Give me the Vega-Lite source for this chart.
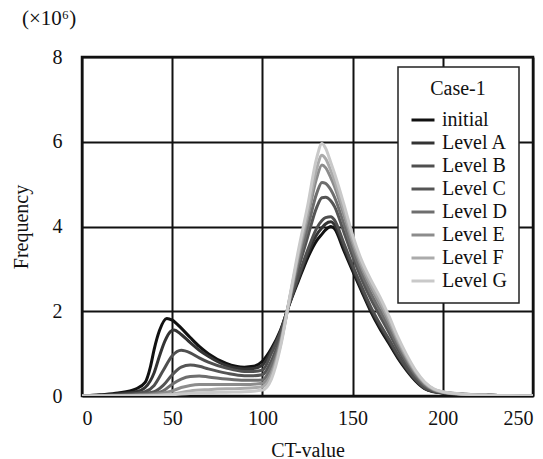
{
  "$schema": "https://vega.github.io/schema/vega-lite/v6.json",
  "width": 451,
  "height": 339,
  "autosize": {"type": "none"},
  "padding": {"left": 82, "top": 57, "right": 10, "bottom": 63},
  "background": "white",
  "title": {"text": "(×10⁶)", "anchor": "start", "frame": "group", "dx": -60, "offset": 18, "fontSize": 21, "fontWeight": "normal", "font": "Liberation Serif", "color": "#111"},
  "data": {"values": [
    {"s":"initial","x":0,"y":0},{"s":"initial","x":10,"y":0.03},{"s":"initial","x":20,"y":0.07},{"s":"initial","x":30,"y":0.17},{"s":"initial","x":35,"y":0.32},{"s":"initial","x":38,"y":0.7},{"s":"initial","x":40,"y":1.1},{"s":"initial","x":43,"y":1.55},{"s":"initial","x":47,"y":1.83},{"s":"initial","x":50,"y":1.79},{"s":"initial","x":55,"y":1.6},{"s":"initial","x":60,"y":1.38},{"s":"initial","x":65,"y":1.17},{"s":"initial","x":70,"y":1.0},{"s":"initial","x":80,"y":0.77},{"s":"initial","x":90,"y":0.68},{"s":"initial","x":95,"y":0.7},{"s":"initial","x":100,"y":0.82},{"s":"initial","x":105,"y":1.12},{"s":"initial","x":110,"y":1.55},{"s":"initial","x":115,"y":2.17},{"s":"initial","x":120,"y":2.72},{"s":"initial","x":125,"y":3.25},{"s":"initial","x":130,"y":3.66},{"s":"initial","x":133,"y":3.82},{"s":"initial","x":135,"y":3.92},{"s":"initial","x":138,"y":4.0},{"s":"initial","x":140,"y":3.95},{"s":"initial","x":145,"y":3.45},{"s":"initial","x":150,"y":2.95},{"s":"initial","x":155,"y":2.47},{"s":"initial","x":160,"y":2.0},{"s":"initial","x":165,"y":1.6},{"s":"initial","x":170,"y":1.25},{"s":"initial","x":175,"y":0.9},{"s":"initial","x":180,"y":0.6},{"s":"initial","x":185,"y":0.35},{"s":"initial","x":190,"y":0.17},{"s":"initial","x":195,"y":0.1},{"s":"initial","x":200,"y":0.07},{"s":"initial","x":210,"y":0.04},{"s":"initial","x":225,"y":0.02},{"s":"initial","x":250,"y":0.005},

    {"s":"Level A","x":0,"y":0},{"s":"Level A","x":10,"y":0.02},{"s":"Level A","x":20,"y":0.05},{"s":"Level A","x":30,"y":0.1},{"s":"Level A","x":35,"y":0.2},{"s":"Level A","x":40,"y":0.55},{"s":"Level A","x":43,"y":0.95},{"s":"Level A","x":46,"y":1.3},{"s":"Level A","x":49,"y":1.52},{"s":"Level A","x":51,"y":1.56},{"s":"Level A","x":55,"y":1.45},{"s":"Level A","x":60,"y":1.26},{"s":"Level A","x":65,"y":1.08},{"s":"Level A","x":70,"y":0.94},{"s":"Level A","x":80,"y":0.72},{"s":"Level A","x":90,"y":0.64},{"s":"Level A","x":95,"y":0.65},{"s":"Level A","x":100,"y":0.73},{"s":"Level A","x":105,"y":1.07},{"s":"Level A","x":110,"y":1.52},{"s":"Level A","x":115,"y":2.18},{"s":"Level A","x":120,"y":2.77},{"s":"Level A","x":125,"y":3.34},{"s":"Level A","x":130,"y":3.8},{"s":"Level A","x":133,"y":3.97},{"s":"Level A","x":135,"y":4.06},{"s":"Level A","x":138,"y":4.11},{"s":"Level A","x":140,"y":4.04},{"s":"Level A","x":145,"y":3.53},{"s":"Level A","x":150,"y":3.01},{"s":"Level A","x":155,"y":2.52},{"s":"Level A","x":160,"y":2.05},{"s":"Level A","x":165,"y":1.65},{"s":"Level A","x":170,"y":1.3},{"s":"Level A","x":175,"y":0.94},{"s":"Level A","x":180,"y":0.63},{"s":"Level A","x":185,"y":0.37},{"s":"Level A","x":190,"y":0.18},{"s":"Level A","x":195,"y":0.105},{"s":"Level A","x":200,"y":0.072},{"s":"Level A","x":210,"y":0.04},{"s":"Level A","x":225,"y":0.02},{"s":"Level A","x":250,"y":0.005},

    {"s":"Level B","x":0,"y":0},{"s":"Level B","x":10,"y":0.01},{"s":"Level B","x":20,"y":0.03},{"s":"Level B","x":30,"y":0.06},{"s":"Level B","x":35,"y":0.1},{"s":"Level B","x":40,"y":0.25},{"s":"Level B","x":45,"y":0.6},{"s":"Level B","x":50,"y":0.95},{"s":"Level B","x":55,"y":1.08},{"s":"Level B","x":60,"y":1.02},{"s":"Level B","x":65,"y":0.9},{"s":"Level B","x":70,"y":0.8},{"s":"Level B","x":80,"y":0.66},{"s":"Level B","x":90,"y":0.58},{"s":"Level B","x":95,"y":0.58},{"s":"Level B","x":100,"y":0.61},{"s":"Level B","x":105,"y":1.01},{"s":"Level B","x":110,"y":1.49},{"s":"Level B","x":115,"y":2.19},{"s":"Level B","x":120,"y":2.83},{"s":"Level B","x":125,"y":3.43},{"s":"Level B","x":130,"y":3.95},{"s":"Level B","x":133,"y":4.14},{"s":"Level B","x":135,"y":4.21},{"s":"Level B","x":138,"y":4.23},{"s":"Level B","x":140,"y":4.15},{"s":"Level B","x":145,"y":3.62},{"s":"Level B","x":150,"y":3.08},{"s":"Level B","x":155,"y":2.58},{"s":"Level B","x":160,"y":2.11},{"s":"Level B","x":165,"y":1.71},{"s":"Level B","x":170,"y":1.35},{"s":"Level B","x":175,"y":0.98},{"s":"Level B","x":180,"y":0.66},{"s":"Level B","x":185,"y":0.39},{"s":"Level B","x":190,"y":0.19},{"s":"Level B","x":195,"y":0.11},{"s":"Level B","x":200,"y":0.075},{"s":"Level B","x":210,"y":0.04},{"s":"Level B","x":225,"y":0.02},{"s":"Level B","x":250,"y":0.005},

    {"s":"Level C","x":0,"y":0},{"s":"Level C","x":20,"y":0.02},{"s":"Level C","x":30,"y":0.04},{"s":"Level C","x":40,"y":0.1},{"s":"Level C","x":45,"y":0.25},{"s":"Level C","x":50,"y":0.5},{"s":"Level C","x":55,"y":0.68},{"s":"Level C","x":60,"y":0.73},{"s":"Level C","x":65,"y":0.7},{"s":"Level C","x":70,"y":0.64},{"s":"Level C","x":80,"y":0.54},{"s":"Level C","x":90,"y":0.48},{"s":"Level C","x":95,"y":0.48},{"s":"Level C","x":100,"y":0.5},{"s":"Level C","x":105,"y":0.83},{"s":"Level C","x":110,"y":1.39},{"s":"Level C","x":115,"y":2.22},{"s":"Level C","x":120,"y":3.01},{"s":"Level C","x":125,"y":3.74},{"s":"Level C","x":130,"y":4.44},{"s":"Level C","x":133,"y":4.68},{"s":"Level C","x":135,"y":4.69},{"s":"Level C","x":138,"y":4.6},{"s":"Level C","x":140,"y":4.47},{"s":"Level C","x":145,"y":3.89},{"s":"Level C","x":150,"y":3.29},{"s":"Level C","x":155,"y":2.76},{"s":"Level C","x":160,"y":2.3},{"s":"Level C","x":165,"y":1.9},{"s":"Level C","x":170,"y":1.51},{"s":"Level C","x":175,"y":1.1},{"s":"Level C","x":180,"y":0.75},{"s":"Level C","x":185,"y":0.45},{"s":"Level C","x":190,"y":0.23},{"s":"Level C","x":195,"y":0.13},{"s":"Level C","x":200,"y":0.08},{"s":"Level C","x":210,"y":0.044},{"s":"Level C","x":225,"y":0.02},{"s":"Level C","x":250,"y":0.005},

    {"s":"Level D","x":0,"y":0},{"s":"Level D","x":20,"y":0.01},{"s":"Level D","x":30,"y":0.03},{"s":"Level D","x":40,"y":0.06},{"s":"Level D","x":45,"y":0.12},{"s":"Level D","x":50,"y":0.28},{"s":"Level D","x":55,"y":0.4},{"s":"Level D","x":60,"y":0.46},{"s":"Level D","x":65,"y":0.47},{"s":"Level D","x":70,"y":0.45},{"s":"Level D","x":80,"y":0.4},{"s":"Level D","x":90,"y":0.37},{"s":"Level D","x":100,"y":0.38},{"s":"Level D","x":105,"y":0.71},{"s":"Level D","x":110,"y":1.32},{"s":"Level D","x":115,"y":2.24},{"s":"Level D","x":120,"y":3.14},{"s":"Level D","x":125,"y":3.95},{"s":"Level D","x":130,"y":4.77},{"s":"Level D","x":133,"y":5.04},{"s":"Level D","x":135,"y":5.02},{"s":"Level D","x":138,"y":4.86},{"s":"Level D","x":140,"y":4.69},{"s":"Level D","x":145,"y":4.08},{"s":"Level D","x":150,"y":3.44},{"s":"Level D","x":155,"y":2.89},{"s":"Level D","x":160,"y":2.43},{"s":"Level D","x":165,"y":2.03},{"s":"Level D","x":170,"y":1.62},{"s":"Level D","x":175,"y":1.19},{"s":"Level D","x":180,"y":0.81},{"s":"Level D","x":185,"y":0.49},{"s":"Level D","x":190,"y":0.26},{"s":"Level D","x":195,"y":0.14},{"s":"Level D","x":200,"y":0.087},{"s":"Level D","x":210,"y":0.046},{"s":"Level D","x":225,"y":0.02},{"s":"Level D","x":250,"y":0.005},

    {"s":"Level E","x":0,"y":0},{"s":"Level E","x":30,"y":0.02},{"s":"Level E","x":40,"y":0.04},{"s":"Level E","x":50,"y":0.12},{"s":"Level E","x":55,"y":0.2},{"s":"Level E","x":60,"y":0.25},{"s":"Level E","x":65,"y":0.27},{"s":"Level E","x":70,"y":0.27},{"s":"Level E","x":80,"y":0.27},{"s":"Level E","x":90,"y":0.27},{"s":"Level E","x":100,"y":0.3},{"s":"Level E","x":105,"y":0.57},{"s":"Level E","x":110,"y":1.25},{"s":"Level E","x":115,"y":2.27},{"s":"Level E","x":120,"y":3.28},{"s":"Level E","x":125,"y":4.18},{"s":"Level E","x":130,"y":5.13},{"s":"Level E","x":133,"y":5.45},{"s":"Level E","x":135,"y":5.39},{"s":"Level E","x":138,"y":5.14},{"s":"Level E","x":140,"y":4.94},{"s":"Level E","x":145,"y":4.29},{"s":"Level E","x":150,"y":3.6},{"s":"Level E","x":155,"y":3.03},{"s":"Level E","x":160,"y":2.57},{"s":"Level E","x":165,"y":2.17},{"s":"Level E","x":170,"y":1.74},{"s":"Level E","x":175,"y":1.28},{"s":"Level E","x":180,"y":0.88},{"s":"Level E","x":185,"y":0.54},{"s":"Level E","x":190,"y":0.29},{"s":"Level E","x":195,"y":0.15},{"s":"Level E","x":200,"y":0.093},{"s":"Level E","x":210,"y":0.048},{"s":"Level E","x":225,"y":0.02},{"s":"Level E","x":250,"y":0.005},

    {"s":"Level F","x":0,"y":0},{"s":"Level F","x":30,"y":0.01},{"s":"Level F","x":40,"y":0.02},{"s":"Level F","x":50,"y":0.05},{"s":"Level F","x":60,"y":0.12},{"s":"Level F","x":70,"y":0.15},{"s":"Level F","x":80,"y":0.17},{"s":"Level F","x":90,"y":0.18},{"s":"Level F","x":100,"y":0.22},{"s":"Level F","x":105,"y":0.49},{"s":"Level F","x":110,"y":1.2},{"s":"Level F","x":115,"y":2.28},{"s":"Level F","x":120,"y":3.36},{"s":"Level F","x":125,"y":4.31},{"s":"Level F","x":130,"y":5.35},{"s":"Level F","x":133,"y":5.68},{"s":"Level F","x":135,"y":5.6},{"s":"Level F","x":138,"y":5.31},{"s":"Level F","x":140,"y":5.08},{"s":"Level F","x":145,"y":4.41},{"s":"Level F","x":150,"y":3.69},{"s":"Level F","x":155,"y":3.11},{"s":"Level F","x":160,"y":2.65},{"s":"Level F","x":165,"y":2.25},{"s":"Level F","x":170,"y":1.82},{"s":"Level F","x":175,"y":1.34},{"s":"Level F","x":180,"y":0.92},{"s":"Level F","x":185,"y":0.57},{"s":"Level F","x":190,"y":0.31},{"s":"Level F","x":195,"y":0.16},{"s":"Level F","x":200,"y":0.096},{"s":"Level F","x":210,"y":0.049},{"s":"Level F","x":225,"y":0.02},{"s":"Level F","x":250,"y":0.005},

    {"s":"Level G","x":0,"y":0},{"s":"Level G","x":30,"y":0.005},{"s":"Level G","x":40,"y":0.01},{"s":"Level G","x":50,"y":0.03},{"s":"Level G","x":60,"y":0.06},{"s":"Level G","x":70,"y":0.08},{"s":"Level G","x":80,"y":0.09},{"s":"Level G","x":90,"y":0.1},{"s":"Level G","x":100,"y":0.14},{"s":"Level G","x":105,"y":0.4},{"s":"Level G","x":110,"y":1.15},{"s":"Level G","x":115,"y":2.3},{"s":"Level G","x":120,"y":3.45},{"s":"Level G","x":125,"y":4.47},{"s":"Level G","x":130,"y":5.6},{"s":"Level G","x":133,"y":5.96},{"s":"Level G","x":135,"y":5.85},{"s":"Level G","x":138,"y":5.5},{"s":"Level G","x":140,"y":5.25},{"s":"Level G","x":145,"y":4.55},{"s":"Level G","x":150,"y":3.8},{"s":"Level G","x":155,"y":3.2},{"s":"Level G","x":160,"y":2.75},{"s":"Level G","x":165,"y":2.35},{"s":"Level G","x":170,"y":1.9},{"s":"Level G","x":175,"y":1.4},{"s":"Level G","x":180,"y":0.97},{"s":"Level G","x":185,"y":0.6},{"s":"Level G","x":190,"y":0.33},{"s":"Level G","x":195,"y":0.17},{"s":"Level G","x":200,"y":0.1},{"s":"Level G","x":210,"y":0.05},{"s":"Level G","x":225,"y":0.02},{"s":"Level G","x":250,"y":0.005}
  ]},
  "mark": {"type": "line", "interpolate": "monotone", "strokeWidth": 3, "strokeJoin": "round", "clip": true},
  "encoding": {
    "x": {"field": "x", "type": "quantitative", "scale": {"domain": [0, 250], "nice": false}, "axis": {"values": [0, 50, 100, 150, 200, 250], "title": "CT-value", "labelFont": "Liberation Serif", "titleFont": "Liberation Serif"}},
    "y": {"field": "y", "type": "quantitative", "scale": {"domain": [0, 8], "nice": false}, "axis": {"values": [0, 2, 4, 6, 8], "title": "Frequency", "labelFont": "Liberation Serif", "titleFont": "Liberation Serif"}},
    "color": {"field": "s", "type": "nominal",
      "scale": {"domain": ["initial","Level A","Level B","Level C","Level D","Level E","Level F","Level G"],
                "range": ["#111111","#333333","#4f4f4f","#555555","#6e6e6e","#8c8c8c","#ababab","#c9c9c9"]},
      "legend": {"title": "Case-1", "orient": "none", "legendX": 316, "legendY": 10, "symbolType": "stroke", "symbolSize": 529, "symbolStrokeWidth": 3, "labelOffset": 6, "rowPadding": 0, "padding": 12, "titleAnchor": "middle", "titlePadding": 8, "strokeColor": "#222", "fillColor": "white", "labelFont": "Liberation Serif", "titleFont": "Liberation Serif", "labelFontSize": 20, "titleFontSize": 20}
    }
  },
  "config": {
    "font": "Liberation Serif",
    "view": {"stroke": "#111", "strokeWidth": 2.5},
    "axis": {"domain": false, "ticks": false, "tickSize": 0, "grid": true, "gridColor": "#111", "gridWidth": 2, "gridOpacity": 1, "labelFont": "Liberation Serif", "labelFontSize": 20, "labelColor": "#111", "titleFont": "Liberation Serif", "titleFontSize": 20, "titleFontWeight": "normal", "titleColor": "#111"},
    "axisX": {"labelPadding": 12, "titlePadding": 12},
    "axisY": {"labelPadding": 20, "titlePadding": 21},
    "legend": {"labelFont": "Liberation Serif", "labelFontSize": 20, "labelColor": "#111", "titleFont": "Liberation Serif", "titleFontSize": 20, "titleFontWeight": "normal", "titleColor": "#111", "strokeWidth": 1.5}
  }
}
